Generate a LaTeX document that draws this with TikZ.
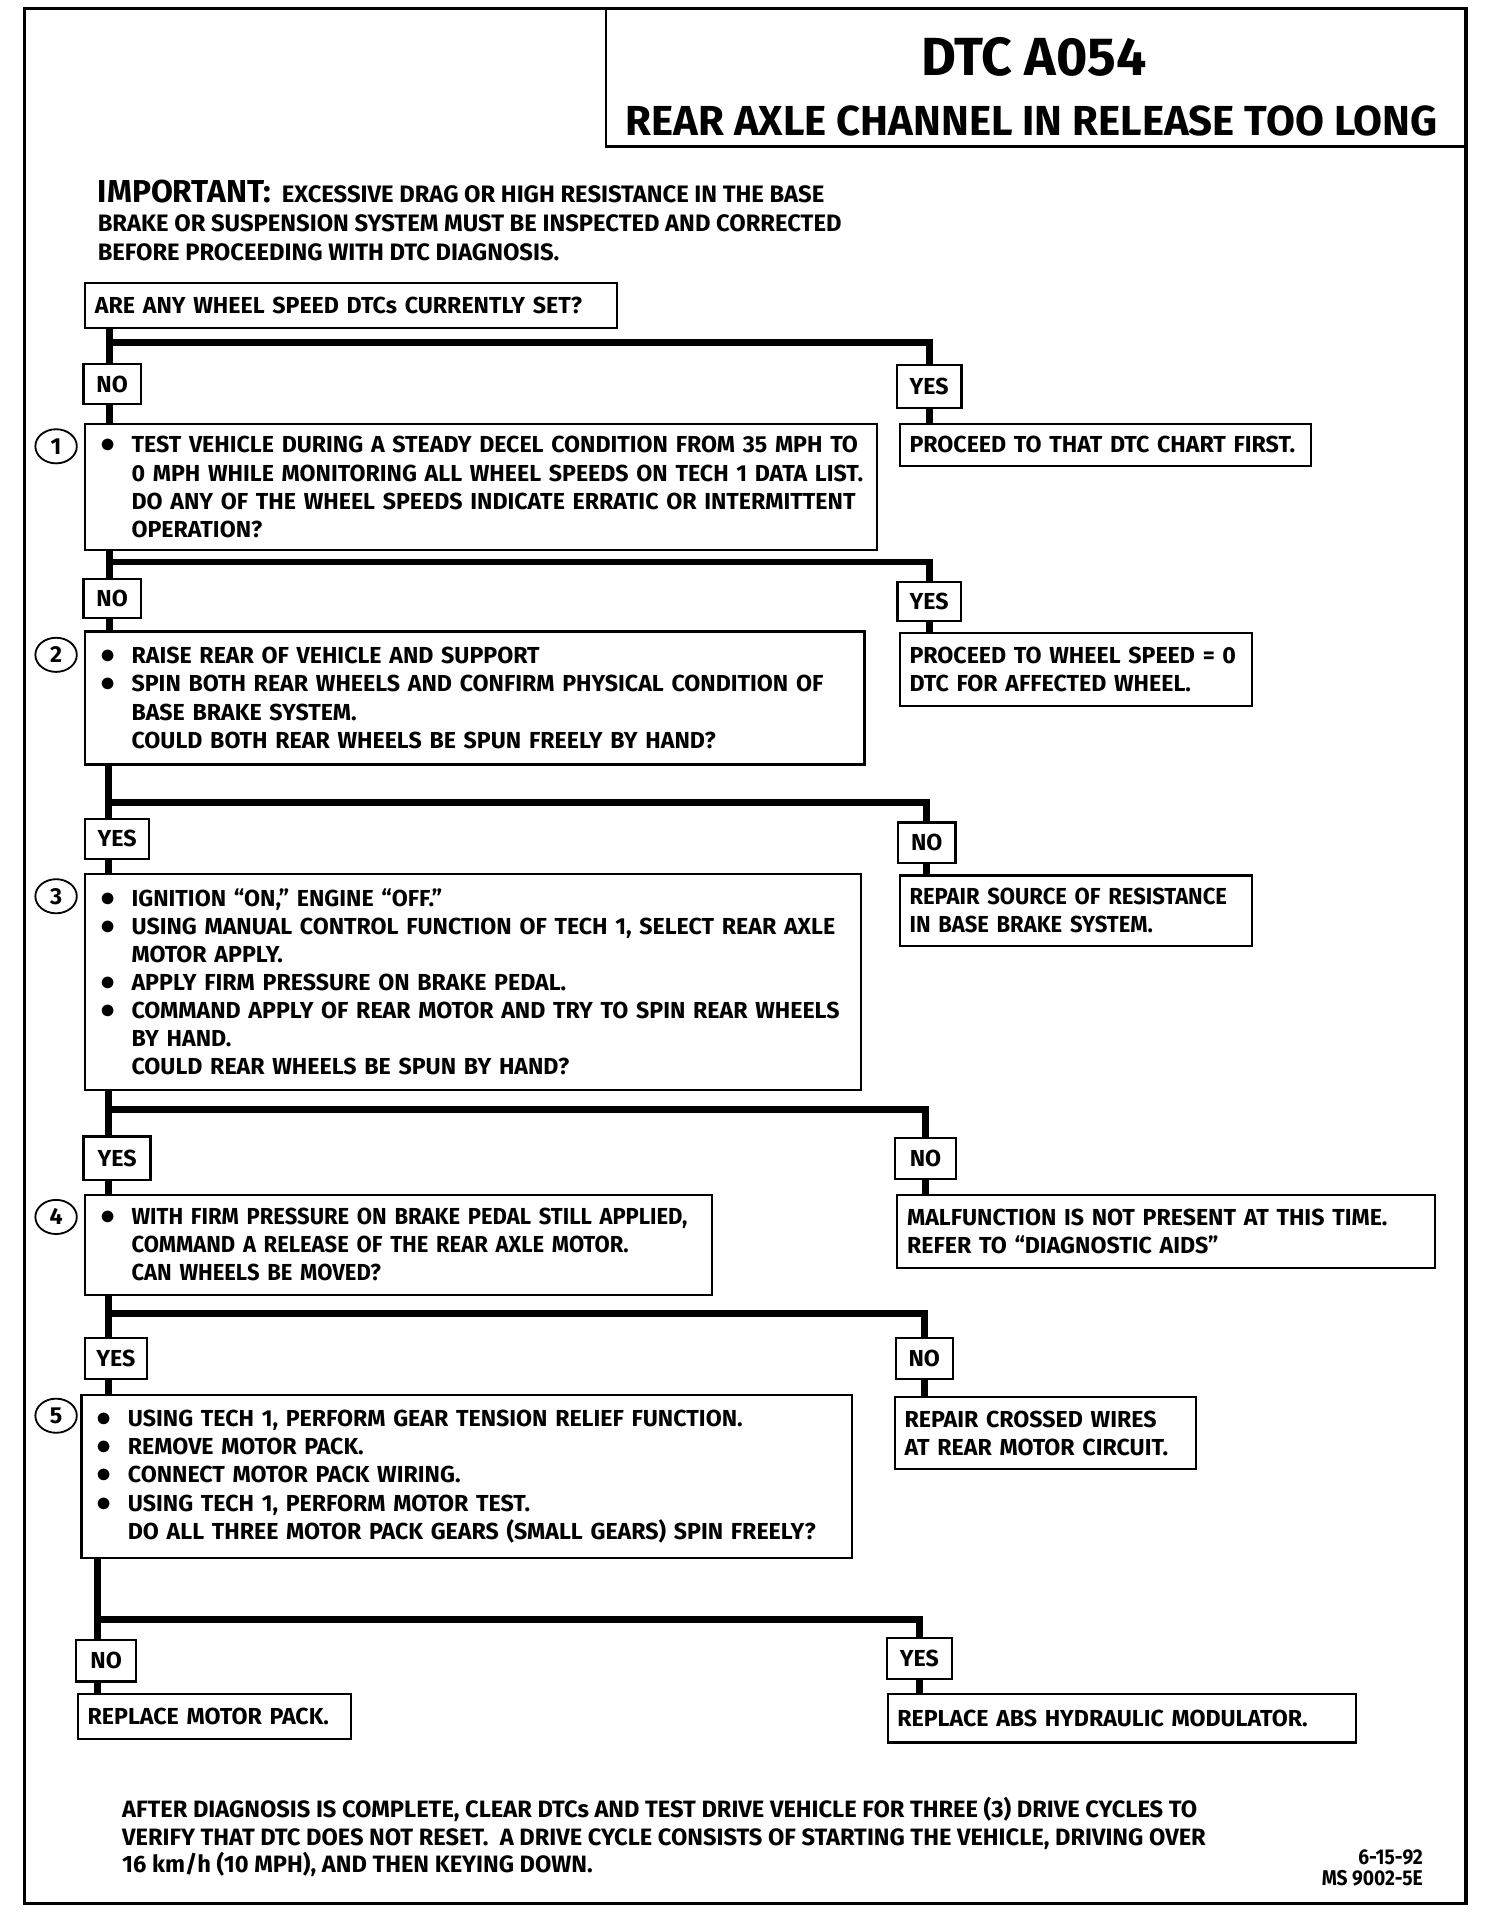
\documentclass[tikz,border=0pt]{standalone}
\usepackage{fontspec}
\setmainfont{Fira Sans}
\usetikzlibrary{shapes.geometric}
\newcommand{\bodyfont}{\bfseries\fontsize{19}{23}\selectfont}
\newcommand{\bul}{\hspace*{4.5pt}\makebox[25.5pt][l]{\fontsize{26}{23}\selectfont$\bullet$}}
\newcommand{\ind}{\hspace*{30pt}}

\begin{document}
\begin{tikzpicture}[x=1pt, y=-1pt,
    every node/.style={font=\bodyfont},
    qbox/.style={draw, line width=1.8pt, anchor=north west, align=left, inner xsep=8pt, inner ysep=0pt},
    narrow/.style={font=\bodyfont\addfontfeatures{FakeStretch=0.95}},
    tag/.style={draw, line width=1.8pt, inner sep=0pt},
    numcirc/.style={draw, ellipse, line width=1.5pt, minimum width=34pt, minimum height=28pt, inner sep=0pt},
    conn/.style={line width=5.5pt}]
    \useasboundingbox (0,0) rectangle (1220,1568);

    % --- Frame and title ---
    \draw[line width=3pt] (20,7) rectangle (1202,1561);
    \draw[line width=2pt] (497,7) -- (497,120) -- (1202,120);
    \node (title) at (848,47) {\fontsize{44}{44}\selectfont DTC A054};
    \node (subtitle) at (846,99) {\fontsize{34.4}{34}\selectfont REAR AXLE CHANNEL IN RELEASE TOO LONG};

    % --- Note ---
    \node[anchor=north west, align=left, inner sep=0pt, font=\bfseries\fontsize{19.5}{24}\selectfont] (imp) at (80,147)
      {{\fontsize{26}{24}\selectfont IMPORTANT:}\ \ EXCESSIVE DRAG OR HIGH RESISTANCE IN THE BASE\\
       BRAKE OR SUSPENSION SYSTEM MUST BE INSPECTED AND CORRECTED\\
       BEFORE PROCEEDING WITH DTC DIAGNOSIS.};

    % --- Question boxes (left column) ---
    \node[qbox, text width=420pt, minimum height=37pt] (q0) at (69,231)
      {ARE ANY WHEEL SPEED DTCs CURRENTLY SET?};
    \node[qbox, text width=633pt, minimum height=103pt] (step1) at (69,347)
      {\bul TEST VEHICLE DURING A STEADY DECEL CONDITION FROM 35 MPH TO\\
       \ind 0 MPH WHILE MONITORING ALL WHEEL SPEEDS ON TECH 1 DATA LIST.\\
       \ind DO ANY OF THE WHEEL SPEEDS INDICATE ERRATIC OR INTERMITTENT\\
       \ind OPERATION?};
    \node[qbox, text width=623pt, minimum height=109pt] (step2) at (69,517)
      {\bul RAISE REAR OF VEHICLE AND SUPPORT\\
       \bul SPIN BOTH REAR WHEELS AND CONFIRM PHYSICAL CONDITION OF\\
       \ind BASE BRAKE SYSTEM.\\
       \ind COULD BOTH REAR WHEELS BE SPUN FREELY BY HAND?};
    \node[qbox, text width=620pt, minimum height=177pt] (step3) at (69,716)
      {\bul IGNITION ``ON,'' ENGINE ``OFF.''\\
       \bul USING MANUAL CONTROL FUNCTION OF TECH 1, SELECT REAR AXLE\\
       \ind MOTOR APPLY.\\
       \bul APPLY FIRM PRESSURE ON BRAKE PEDAL.\\
       \bul COMMAND APPLY OF REAR MOTOR AND TRY TO SPIN REAR WHEELS\\
       \ind BY HAND.\\
       \ind COULD REAR WHEELS BE SPUN BY HAND?};
    \node[qbox, narrow, text width=498pt, minimum height=82pt] (step4) at (69,979)
      {\bul WITH FIRM PRESSURE ON BRAKE PEDAL STILL APPLIED,\\
       \ind COMMAND A RELEASE OF THE REAR AXLE MOTOR.\\
       \ind CAN WHEELS BE MOVED?};
    \node[qbox, text width=616pt, minimum height=134pt] (step5) at (66,1143)
      {\bul USING TECH 1, PERFORM GEAR TENSION RELIEF FUNCTION.\\
       \bul REMOVE MOTOR PACK.\\
       \bul CONNECT MOTOR PACK WIRING.\\
       \bul USING TECH 1, PERFORM MOTOR TEST.\\
       \ind DO ALL THREE MOTOR PACK GEARS (SMALL GEARS) SPIN FREELY?};
    \node[qbox, text width=208pt, minimum height=37pt] (end1) at (63,1388)
      {REPLACE MOTOR PACK.};

    % --- Result boxes (right column) ---
    \node[qbox, text width=321pt, minimum height=34pt] (go1) at (737,347)
      {PROCEED TO THAT DTC CHART FIRST.};
    \node[qbox, text width=273pt, minimum height=60pt] (go2) at (737,518)
      {PROCEED TO WHEEL SPEED = 0\\ DTC FOR AFFECTED WHEEL.};
    \node[qbox, narrow, text width=273pt, minimum height=58pt] (go3) at (737,717)
      {REPAIR SOURCE OF RESISTANCE\\ IN BASE BRAKE SYSTEM.};
    \node[qbox, text width=425pt, minimum height=60pt] (go4) at (735,979)
      {MALFUNCTION IS NOT PRESENT AT THIS TIME.\\ REFER TO ``DIAGNOSTIC AIDS''};
    \node[qbox, text width=231pt, minimum height=59pt] (go5) at (733,1145)
      {REPAIR CROSSED WIRES\\ AT REAR MOTOR CIRCUIT.};
    \node[qbox, text width=368pt, minimum height=40pt] (end2) at (727,1388)
      {REPLACE ABS HYDRAULIC MODULATOR.};

    % --- Step numbers ---
    \node[numcirc] (c1) at (46,366) {1};
    \node[numcirc] (c2) at (46,537) {2};
    \node[numcirc] (c3) at (46,735) {3};
    \node[numcirc] (c4) at (46,998) {4};
    \node[numcirc] (c5) at (46,1161) {5};

    % --- Answer tags ---
    \node[tag, minimum width=47pt, minimum height=33pt] (t0n) at (92,315) {NO};
    \node[tag, minimum width=53pt, minimum height=35pt] (t0y) at (762,317) {YES};
    \node[tag, minimum width=47pt, minimum height=32pt] (t1n) at (92,491) {NO};
    \node[tag, minimum width=52pt, minimum height=32pt] (t1y) at (762,493) {YES};
    \node[tag, minimum width=53pt, minimum height=33pt] (t2y) at (96,688) {YES};
    \node[tag, minimum width=47pt, minimum height=33pt] (t2n) at (760,691) {NO};
    \node[tag, minimum width=55pt, minimum height=36pt] (t3y) at (96,950) {YES};
    \node[tag, minimum width=50pt, minimum height=34pt] (t3n) at (759,950) {NO};
    \node[tag, minimum width=51pt, minimum height=34pt] (t4y) at (95,1114) {YES};
    \node[tag, minimum width=47pt, minimum height=34pt] (t4n) at (758,1114) {NO};
    \node[tag, minimum width=49pt, minimum height=34pt] (t5n) at (87,1362) {NO};
    \node[tag, minimum width=53pt, minimum height=34pt] (t5y) at (754,1360) {YES};

    % --- Connectors ---
    \coordinate (j0) at (90,281);
    \draw[conn] (q0.south -| j0) -- (t0n.north -| j0);
    \draw[conn] (j0) -| (t0y.north);
    \draw[conn] (t0n.south -| j0) -- (step1.north -| j0);
    \draw[conn] (t0y.south) -- (go1.north -| t0y.south);

    \coordinate (j1) at (90,461);
    \draw[conn] (step1.south -| j1) -- (t1n.north -| j1);
    \draw[conn] (j1) -| (t1y.north);
    \draw[conn] (t1n.south -| j1) -- (step2.north -| j1);
    \draw[conn] (t1y.south) -- (go2.north -| t1y.south);

    \coordinate (j2) at (89,658);
    \draw[conn] (step2.south -| j2) -- (t2y.north -| j2);
    \draw[conn] (j2) -| (t2n.north);
    \draw[conn] (t2y.south -| j2) -- (step3.north -| j2);
    \draw[conn] (t2n.south) -- (go3.north -| t2n.south);

    \coordinate (j3) at (89,910);
    \draw[conn] (step3.south -| j3) -- (t3y.north -| j3);
    \draw[conn] (j3) -| (t3n.north);
    \draw[conn] (t3y.south -| j3) -- (step4.north -| j3);
    \draw[conn] (t3n.south) -- (go4.north -| t3n.south);

    \coordinate (j4) at (89,1077);
    \draw[conn] (step4.south -| j4) -- (t4y.north -| j4);
    \draw[conn] (j4) -| (t4n.north);
    \draw[conn] (t4y.south -| j4) -- (step5.north -| j4);
    \draw[conn] (t4n.south) -- (go5.north -| t4n.south);

    \coordinate (j5) at (80,1328);
    \draw[conn] (step5.south -| j5) -- (t5n.north -| j5);
    \draw[conn] (j5) -| (t5y.north);
    \draw[conn] (t5n.south -| j5) -- (end1.north -| j5);
    \draw[conn] (t5y.south) -- (end2.north -| t5y.south);

    % --- Footer ---
    \node[anchor=north west, align=left, inner sep=0pt, font=\bfseries\fontsize{19.4}{22.5}\selectfont] (foot) at (100,1474)
      {AFTER DIAGNOSIS IS COMPLETE, CLEAR DTCs AND TEST DRIVE VEHICLE FOR THREE (3) DRIVE CYCLES TO\\
       VERIFY THAT DTC DOES NOT RESET.\ \ A DRIVE CYCLE CONSISTS OF STARTING THE VEHICLE, DRIVING OVER\\
       16 km/h (10 MPH), AND THEN KEYING DOWN.};
    \node[anchor=north east, align=right, inner sep=0pt, font=\bfseries\fontsize{17.5}{17}\selectfont\addfontfeatures{FakeStretch=0.9}] (ref) at (1167,1517)
      {6-15-92\\ MS 9002-5E};
\end{tikzpicture}
\end{document}
